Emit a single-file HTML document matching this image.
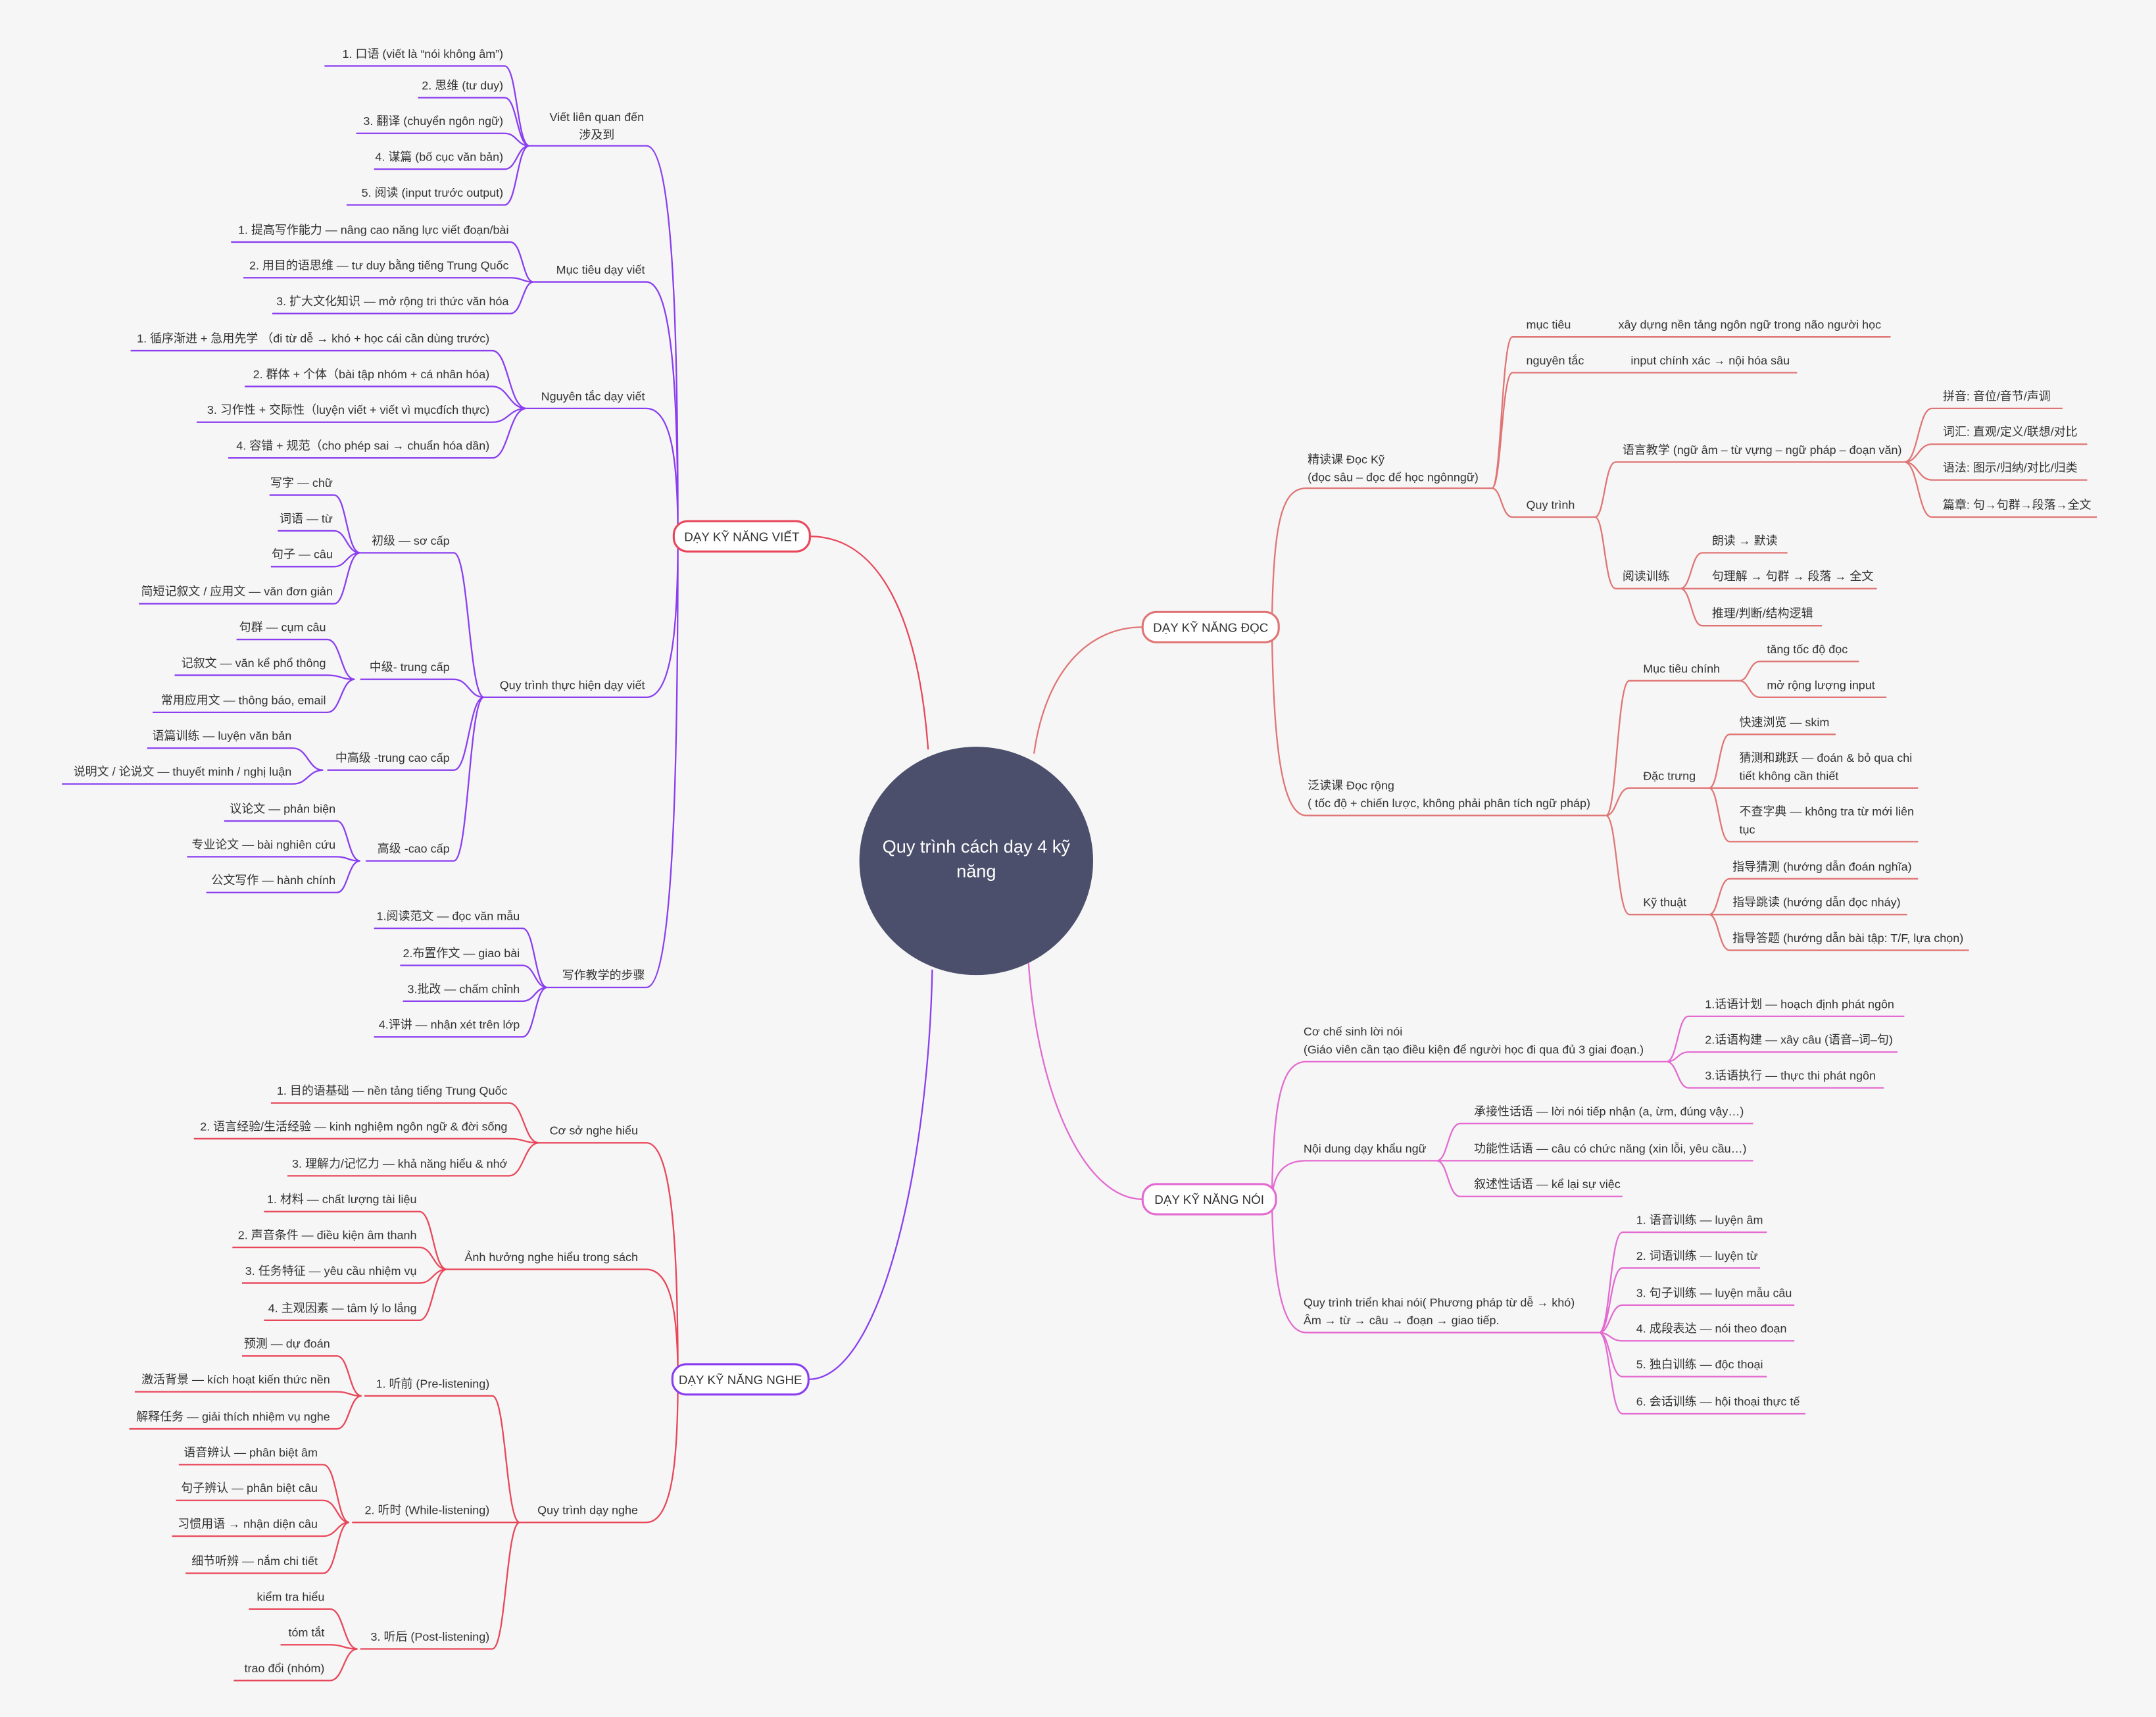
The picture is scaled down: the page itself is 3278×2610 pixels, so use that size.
<!DOCTYPE html>
<html><head><meta charset="utf-8"><style>
html,body{margin:0;padding:0;background:#f6f6f6;}
svg{display:block}
text{font-family:"Liberation Sans","Noto Sans CJK SC",sans-serif;font-size:8.6px;fill:#333}
.l text{text-anchor:end}
path{fill:none;stroke-width:1.1}
.p path{stroke:#8a3ef0}.r path{stroke:#e8475a}.o path{stroke:#e07575}.k path{stroke:#e36ad0}
.m{font-size:9px;text-anchor:middle}
</style></head><body>
<svg width="3278" height="2610" viewBox="0 0 1568 1248.5" xmlns="http://www.w3.org/2000/svg">
<rect width="1568" height="1249" fill="#f6f6f6"/>

<!-- WRITING (purple children) -->
<g class="p l">
<path d="M470 106C490 106 493 248 493 390M470 205C490 205 493 297 493 390M470 297C490 297 493 343 493 390M470 507C490 507 493 448 493 390M470 718C490 718 493 554 493 390"/>
<path d="M385 106H470M388 205H470M383 297H470M352 507H470M398 718H470"/>
<path d="M236 48H367C376 48 376 106 385 106M304 71H367C376 71 376 106 385 106M259 97H367C376 97 376 106 385 106M272 123H367C376 123 376 106 385 106M252 149H367C376 149 376 106 385 106"/>
<text x="366" y="42">1. 口语 (viết là “nói không âm”)</text>
<text x="366" y="65">2. 思维 (tư duy)</text>
<text x="366" y="91">3. 翻译 (chuyển ngôn ngữ)</text>
<text x="366" y="117">4. 谋篇 (bố cục văn bản)</text>
<text x="366" y="143">5. 阅读 (input trước output)</text>
<text x="434" y="88" style="text-anchor:middle">Viết liên quan đến</text>
<text x="434" y="101" style="text-anchor:middle">涉及到</text>

<path d="M168 176H371C380 176 380 205 388 205M177 202H371C380 202 380 205 388 205M198 228H371C380 228 380 205 388 205"/>
<text x="370" y="170">1. 提高写作能力 — nâng cao năng lực viết đoạn/bài</text>
<text x="370" y="196">2. 用目的语思维 — tư duy bằng tiếng Trung Quốc</text>
<text x="370" y="222">3. 扩大文化知识 — mở rộng tri thức văn hóa</text>
<text x="469" y="199">Mục tiêu dạy viết</text>

<path d="M95 255H358C370 255 370 297 383 297M178 281H358C370 281 370 297 383 297M143 307H358C370 307 370 297 383 297M166 333H358C370 333 370 297 383 297"/>
<text x="356" y="249">1. 循序渐进 + 急用先学 （đi từ dễ → khó + học cái cần dùng trước)</text>
<text x="356" y="275">2. 群体 + 个体（bài tập nhóm + cá nhân hóa)</text>
<text x="356" y="301">3. 习作性 + 交际性（luyện viết + viết vì mụcđích thực)</text>
<text x="356" y="327">4. 容错 + 规范（cho phép sai → chuẩn hóa dần)</text>
<text x="469" y="291">Nguyên tắc dạy viết</text>

<path d="M262 402H330C341 402 341 507 352 507M262 494H330C341 494 341 507 352 507M238 560H330C341 560 341 507 352 507M266 626H330C341 626 341 507 352 507"/>
<text x="469" y="501">Quy trình thực hiện dạy viết</text>
<text x="327" y="396">初级 — sơ cấp</text>
<text x="327" y="488">中级- trung cấp</text>
<text x="327" y="554">中高级 -trung cao cấp</text>
<text x="327" y="620">高级 -cao cấp</text>
<path d="M196 360H243C252 360 252 402 262 402M202 386H243C252 386 252 402 262 402M197 412H243C252 412 252 402 262 402M101 439H243C252 439 252 402 262 402"/>
<text x="242" y="354">写字 — chữ</text>
<text x="242" y="380">词语 — từ</text>
<text x="242" y="406">句子 — câu</text>
<text x="242" y="433">简短记叙文 / 应用文 — văn đơn giản</text>
<path d="M172 465H238C248 465 248 494 258 494M127 491H238C248 491 248 494 258 494M111 518H238C248 518 248 494 258 494"/>
<text x="237" y="459">句群 — cụm câu</text>
<text x="237" y="485">记叙文 — văn kể phổ thông</text>
<text x="237" y="512">常用应用文 — thông báo, email</text>
<path d="M107 544H213C224 544 224 560 235 560M45 570H213C224 570 224 560 235 560"/>
<text x="212" y="538">语篇训练 — luyện văn bản</text>
<text x="212" y="564">说明文 / 论说文 — thuyết minh / nghị luận</text>
<path d="M163 597H245C253 597 253 626 262 626M136 623H245C253 623 253 626 262 626M150 649H245C253 649 253 626 262 626"/>
<text x="244" y="591">议论文 — phản biện</text>
<text x="244" y="617">专业论文 — bài nghiên cứu</text>
<text x="244" y="643">公文写作 — hành chính</text>

<path d="M272 675H380C389 675 389 718 398 718M291 702H380C389 702 389 718 398 718M293 728H380C389 728 389 718 398 718M272 754H380C389 754 389 718 398 718"/>
<text x="378" y="669">1.阅读范文 — đọc văn mẫu</text>
<text x="378" y="696">2.布置作文 — giao bài</text>
<text x="378" y="722">3.批改 — chấm chỉnh</text>
<text x="378" y="748">4.评讲 — nhận xét trên lớp</text>
<text x="469" y="712">写作教学的步骤</text>
</g>

<!-- LISTENING (red children) -->
<g class="r l">
<path d="M470 831C490 831 493 917 493 1003M470 923C490 923 493 963 493 1003M470 1107C490 1107 493 1055 493 1003"/>
<path d="M392 831H470M325 923H470M378 1107H470"/>
<text x="464" y="825">Cơ sở nghe hiểu</text>
<text x="464" y="917">Ảnh hưởng nghe hiểu trong sách</text>
<text x="464" y="1101">Quy trình dạy nghe</text>
<path d="M197 802H370C381 802 381 831 392 831M141 828H370C381 828 381 831 392 831M209 855H370C381 855 381 831 392 831"/>
<text x="369" y="796">1. 目的语基础 — nền tảng tiếng Trung Quốc</text>
<text x="369" y="822">2. 语言经验/生活经验 — kinh nghiệm ngôn ngữ &amp; đời sống</text>
<text x="369" y="849">3. 理解力/记忆力 — khả năng hiểu &amp; nhớ</text>
<path d="M192 881H305C315 881 315 923 325 923M169 907H305C315 907 315 923 325 923M176 933H305C315 933 315 923 325 923M192 960H305C315 960 315 923 325 923"/>
<text x="303" y="875">1. 材料 — chất lượng tài liệu</text>
<text x="303" y="901">2. 声音条件 — điều kiện âm thanh</text>
<text x="303" y="927">3. 任务特征 — yêu cầu nhiệm vụ</text>
<text x="303" y="954">4. 主观因素 — tâm lý lo lắng</text>
<path d="M265 1015H358C368 1015 368 1107 378 1107M256 1107H378M262 1199H358C368 1199 368 1107 378 1107"/>
<text x="356" y="1009">1. 听前 (Pre-listening)</text>
<text x="356" y="1101">2. 听时 (While-listening)</text>
<text x="356" y="1193">3. 听后 (Post-listening)</text>
<path d="M176 986H245C254 986 254 1015 263 1015M98 1012H245C254 1012 254 1015 263 1015M94 1039H245C254 1039 254 1015 263 1015"/>
<text x="240" y="980">预测 — dự đoán</text>
<text x="240" y="1006">激活背景 — kích hoạt kiến thức nền</text>
<text x="240" y="1033">解释任务 — giải thích nhiệm vụ nghe</text>
<path d="M130 1065H235C245 1065 245 1107 254 1107M128 1091H235C245 1091 245 1107 254 1107M125 1117H235C245 1117 245 1107 254 1107M135 1144H235C245 1144 245 1107 254 1107"/>
<text x="231" y="1059">语音辨认 — phân biệt âm</text>
<text x="231" y="1085">句子辨认 — phân biệt câu</text>
<text x="231" y="1111">习惯用语 → nhận diện câu</text>
<text x="231" y="1138">细节听辨 — nắm chi tiết</text>
<path d="M181 1170H240C250 1170 250 1199 260 1199M204 1196H240C250 1196 250 1199 260 1199M170 1222H240C250 1222 250 1199 260 1199"/>
<text x="236" y="1164">kiểm tra hiểu</text>
<text x="236" y="1190">tóm tắt</text>
<text x="236" y="1216">trao đổi (nhóm)</text>
</g>

<!-- READING -->
<g class="o">
<path d="M925 456C926 380 932 355 950 355H1085M925 456C926 540 932 593 950 593H1168"/>
<text x="951" y="337">精读课 Đọc Kỹ</text>
<text x="951" y="350">(đọc sâu – đọc để học ngônngữ)</text>
<text x="951" y="574">泛读课 Đọc rộng</text>
<text x="951" y="587">( tốc độ + chiến lược, không phải phân tích ngữ pháp)</text>
<path d="M1085 355C1092 355 1092 245 1100 245H1375M1085 355C1092 355 1092 271 1100 271H1307M1085 355C1092 355 1092 376 1100 376H1160"/>
<text x="1110" y="239">mục tiêu</text><text x="1177" y="239">xây dựng nền tảng ngôn ngữ trong não người học</text>
<text x="1110" y="265">nguyên tắc</text><text x="1186" y="265">input chính xác → nội hóa sâu</text>
<text x="1110" y="370">Quy trình</text>
<path d="M1160 376C1167 376 1167 336 1175 336H1385M1160 376C1167 376 1167 428 1175 428H1222"/>
<text x="1180" y="330">语言教学 (ngữ âm – từ vựng – ngữ pháp – đoạn văn)</text>
<text x="1180" y="422">阅读训练</text>
<path d="M1385 336C1395 336 1395 297 1405 297H1500M1385 336C1395 336 1395 323 1405 323H1518M1385 336C1395 336 1395 349 1405 349H1518M1385 336C1395 336 1395 376 1405 376H1525"/>
<text x="1413" y="291">拼音: 音位/音节/声调</text>
<text x="1413" y="317">词汇: 直观/定义/联想/对比</text>
<text x="1413" y="343">语法: 图示/归纳/对比/归类</text>
<text x="1413" y="370">篇章: 句→句群→段落→全文</text>
<path d="M1222 428C1230 428 1230 402 1238 402H1300M1222 428H1365M1222 428C1230 428 1230 455 1238 455H1325"/>
<text x="1245" y="396">朗读 → 默读</text>
<text x="1245" y="422">句理解 → 句群 → 段落 → 全文</text>
<text x="1245" y="449">推理/判断/结构逻辑</text>
<path d="M1168 593C1176 593 1176 495 1185 495H1265M1168 593C1176 593 1176 573 1185 573H1243M1168 593C1176 593 1176 665 1185 665H1243"/>
<text x="1195" y="489">Mục tiêu chính</text>
<text x="1195" y="567">Đặc trưng</text>
<text x="1195" y="659">Kỹ thuật</text>
<path d="M1265 495C1272 495 1272 481 1280 481H1352M1265 495C1272 495 1272 507 1280 507H1372"/>
<text x="1285" y="475">tăng tốc độ đọc</text>
<text x="1285" y="501">mở rộng lượng input</text>
<path d="M1243 573C1250 573 1250 534 1258 534H1335M1243 573H1395M1243 573C1250 573 1250 612 1258 612H1395"/>
<text x="1265" y="528">快速浏览 — skim</text>
<text x="1265" y="554">猜测和跳跃 — đoán &amp; bỏ qua chi</text>
<text x="1265" y="567">tiết không cần thiết</text>
<text x="1265" y="593">不查字典 — không tra từ mới liên</text>
<text x="1265" y="606">tục</text>
<path d="M1243 665C1250 665 1250 639 1258 639H1395M1243 665H1387M1243 665C1250 665 1250 691 1258 691H1432"/>
<text x="1260" y="633">指导猜测 (hướng dẫn đoán nghĩa)</text>
<text x="1260" y="659">指导跳读 (hướng dẫn đọc nháy)</text>
<text x="1260" y="685">指导答题 (hướng dẫn bài tập: T/F, lựa chọn)</text>
</g>

<!-- SPEAKING -->
<g class="k">
<path d="M925 872C926 800 932 772 950 772H1212M925 872C926 855 932 844 950 844H1045M925 872C926 930 932 969 950 969H1163"/>
<text x="948" y="753">Cơ chế sinh lời nói</text>
<text x="948" y="766">(Giáo viên cần tạo điều kiện để người học đi qua đủ 3 giai đoạn.)</text>
<text x="948" y="838">Nội dung dạy khẩu ngữ</text>
<text x="948" y="950">Quy trình triển khai nói( Phương pháp từ dễ → khó)</text>
<text x="948" y="963">Âm → từ → câu → đoạn → giao tiếp.</text>
<path d="M1212 772C1220 772 1220 739 1228 739H1385M1212 772C1220 772 1220 765 1228 765H1380M1212 772C1220 772 1220 791 1228 791H1370"/>
<text x="1240" y="733">1.话语计划 — hoạch định phát ngôn</text>
<text x="1240" y="759">2.话语构建 — xây câu (语音–词–句)</text>
<text x="1240" y="785">3.话语执行 — thực thi phát ngôn</text>
<path d="M1045 844C1053 844 1053 817 1062 817H1275M1045 844H1275M1045 844C1053 844 1053 870 1062 870H1180"/>
<text x="1072" y="811">承接性话语 — lời nói tiếp nhận (a, ừm, đúng vậy…)</text>
<text x="1072" y="838">功能性话语 — câu có chức năng (xin lỗi, yêu cầu…)</text>
<text x="1072" y="864">叙述性话语 — kể lại sự việc</text>
<path d="M1163 969C1171 969 1171 896 1180 896H1285M1163 969C1171 969 1171 922 1180 922H1280M1163 969C1171 969 1171 949 1180 949H1305M1163 969C1171 969 1171 975 1180 975H1305M1163 969C1171 969 1171 1001 1180 1001H1285M1163 969C1171 969 1171 1028 1180 1028H1313"/>
<text x="1190" y="890">1. 语音训练 — luyện âm</text>
<text x="1190" y="916">2. 词语训练 — luyện từ</text>
<text x="1190" y="943">3. 句子训练 — luyện mẫu câu</text>
<text x="1190" y="969">4. 成段表达 — nói theo đoạn</text>
<text x="1190" y="995">5. 独白训练 — độc thoại</text>
<text x="1190" y="1022">6. 会话训练 — hội thoại thực tế</text>
</g>

<!-- main connectors -->
<path d="M589 390C640 390 668 450 675 545" stroke="#e8475a" stroke-width="2.6" fill="none"/>
<path d="M831 456C790 456 760 490 752 548" stroke="#e07575" stroke-width="2.6" fill="none"/>
<path d="M748 700C755 800 790 872 831 872" stroke="#e36ad0" stroke-width="2.6" fill="none"/>
<path d="M678 705C675 850 640 1003 588 1003" stroke="#8a3ef0" stroke-width="2.6" fill="none"/>

<rect x="490" y="379" width="99" height="22" rx="10" fill="#fff" stroke="#e8475a" stroke-width="1.5"/>
<text class="m" x="539.5" y="393.5">DẠY KỸ NĂNG VIẾT</text>
<rect x="831" y="445" width="99" height="22" rx="10" fill="#fff" stroke="#e07575" stroke-width="1.5"/>
<text class="m" x="880.5" y="459.5">DẠY KỸ NĂNG ĐỌC</text>
<rect x="831" y="861" width="97" height="22" rx="10" fill="#fff" stroke="#e36ad0" stroke-width="1.5"/>
<text class="m" x="879.5" y="875.5">DẠY KỸ NĂNG NÓI</text>
<rect x="489" y="992" width="99" height="22" rx="10" fill="#fff" stroke="#8a3ef0" stroke-width="1.5"/>
<text class="m" x="538.5" y="1006.5">DẠY KỸ NĂNG NGHE</text>

<ellipse cx="710" cy="626" rx="85" ry="83" fill="#4b4f6b"/>
<text x="710" y="620" style="font-size:13px;fill:#fff;text-anchor:middle">Quy trình cách dạy 4 kỹ</text>
<text x="710" y="638" style="font-size:13px;fill:#fff;text-anchor:middle">năng</text>
</svg>
</body></html>
